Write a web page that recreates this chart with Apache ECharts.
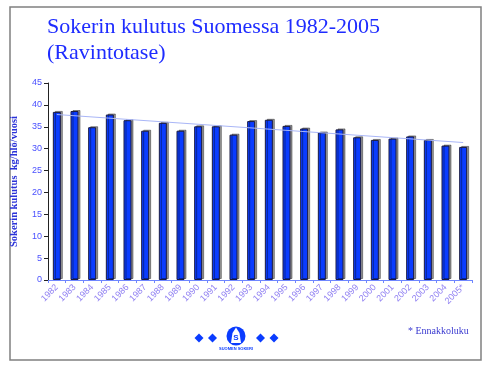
<!DOCTYPE html>
<html><head><meta charset="utf-8">
<script src="https://cdn.jsdelivr.net/npm/echarts@6/dist/echarts.min.js"></script>
<style>html,body{margin:0;padding:0;background:#fff}#c{width:494px;height:375px}</style>
</head><body><div id="c"></div>
<script>
var years = ['1982','1983','1984','1985','1986','1987','1988','1989','1990','1991','1992','1993','1994','1995','1996','1997','1998','1999','2000','2001','2002','2003','2004','2005*'];
var consumption = [38.4,38.6,34.9,37.8,36.5,34.1,35.9,34.1,35.1,35.1,33.2,36.3,36.6,35.2,34.6,33.7,34.4,32.6,32.0,32.3,32.8,32.0,30.7,30.4];
var trendStart = 37.8;
var trendEnd = 31.4;
var yTicks = {min: 0, max: 45, interval: 5};
var titleText = 'Sokerin kulutus Suomessa 1982-2005\n(Ravintotase)';
var yName = 'Sokerin kulutus  kg/hlö/vuosi';
var footnote = '* Ennakkoluku';

var chart = echarts.init(document.getElementById('c'), null, {renderer: 'canvas'});
function diamond(cx, cy, r) {
  return {type: 'polygon', shape: {points: [[cx, cy - r], [cx + r, cy], [cx, cy + r], [cx - r, cy]]}, style: {fill: '#0a3cff'}};
}
chart.setOption({
  animation: false,
  backgroundColor: '#fff',
  title: {
    text: titleText, left: 42, top: 9,
    textStyle: {fontFamily: 'Liberation Serif', fontWeight: 'normal', fontSize: 22, lineHeight: 26, color: '#1e2cff'}
  },
  grid: {left: 48, right: 22, top: 83, bottom: 95},
  xAxis: {
    type: 'category', data: years,
    axisLine: {lineStyle: {color: '#6f86ff', width: 1}},
    axisTick: {show: true, length: 3, lineStyle: {color: '#6f86ff'}},
    axisLabel: {rotate: 45, fontSize: 9, fontFamily: 'Liberation Sans', color: '#8f7ff2', margin: 6, interval: 0}
  },
  yAxis: {
    type: 'value', min: yTicks.min, max: yTicks.max, interval: yTicks.interval,
    name: yName, nameLocation: 'middle', nameGap: 28, nameRotate: 90,
    nameTextStyle: {fontFamily: 'Liberation Serif', fontWeight: 'bold', fontSize: 10.5, color: '#2a32d8'},
    axisLine: {show: true, lineStyle: {color: '#222', width: 1}},
    axisTick: {show: true, length: 4, lineStyle: {color: '#222'}},
    splitLine: {show: false},
    axisLabel: {fontSize: 9, fontFamily: 'Liberation Sans', color: '#4a50ff', margin: 6}
  },
  series: [{
    type: 'bar', data: consumption, barWidth: 8,
    itemStyle: {color: '#0a3cff', borderColor: '#1a1a40', borderWidth: 1, shadowColor: 'rgba(0,0,0,0.4)', shadowOffsetX: 2, shadowOffsetY: -1, shadowBlur: 0},
    markLine: {
      silent: true, symbol: 'none', label: {show: false},
      lineStyle: {color: '#a9b6f7', width: 1, type: 'solid'},
      data: [[{coord: [years[0], trendStart]}, {coord: [years[years.length - 1], trendEnd]}]]
    }
  }],
  graphic: [
    {type: 'rect', shape: {x: 10, y: 7, width: 471, height: 353}, style: {fill: null, stroke: '#808080', lineWidth: 1.5}, z: -1},
    {type: 'text', left: 408, top: 326, style: {text: footnote, font: '10px "Liberation Serif"', fill: '#3a3ad0'}},
    diamond(199, 338, 4.5), diamond(212.5, 338, 4.5), diamond(260.5, 338, 4.5), diamond(274, 338, 4.5),
    {type: 'circle', shape: {cx: 236, cy: 336, r: 9.5}, style: {fill: '#0a3cff'}},
    {type: 'polygon', shape: {points: [[236, 327.5], [239.5, 333], [241, 343], [231, 343], [232.5, 333]]}, style: {fill: '#fff'}},
    {type: 'text', x: 236, y: 338, style: {text: 'S', font: 'bold 8px "Liberation Sans"', fill: '#0a3cff', align: 'center', verticalAlign: 'middle'}},
    {type: 'text', x: 236, y: 349, style: {text: 'SUOMEN SOKERI', font: 'bold 4px "Liberation Sans"', fill: '#0a3cff', align: 'center', verticalAlign: 'middle'}}
  ]
});
</script>
</body></html>
